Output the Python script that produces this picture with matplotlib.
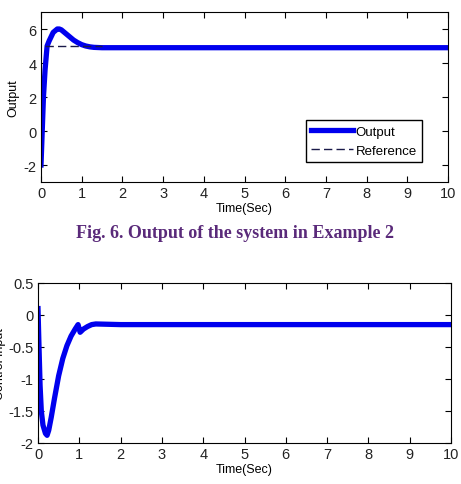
import matplotlib.pyplot as plt

# time samples
t_out = [0, 0.03, 0.06, 0.1, 0.15, 0.2, 0.3, 0.4, 0.45, 0.5, 0.6, 0.7, 0.8, 0.9, 1.0, 1.1, 1.2, 1.3, 1.5, 2.0, 10]
y_out = [-2.0, 0.0, 2.0, 3.6, 5.0, 5.3, 5.8, 6.0, 6.0, 5.95, 5.75, 5.55, 5.35, 5.2, 5.08, 5.0, 4.95, 4.92, 4.9, 4.9, 4.9]

t_ref = [0.1, 1.5]
y_ref = [5.0, 5.0]

t_u = [0, 0.02, 0.05, 0.08, 0.12, 0.18, 0.22, 0.26, 0.32, 0.4, 0.5, 0.6, 0.7, 0.8, 0.9, 0.97, 1.02, 1.1, 1.2, 1.3, 1.4, 2.0, 10]
u = [0.1, -0.4, -1.1, -1.5, -1.72, -1.85, -1.88, -1.8, -1.6, -1.3, -0.95, -0.68, -0.48, -0.33, -0.22, -0.15, -0.27, -0.22, -0.18, -0.15, -0.14, -0.15, -0.15]

plt.rcParams['font.family'] = ['Liberation Sans', 'DejaVu Sans']
plt.rcParams['axes.unicode_minus'] = False
plt.rcParams['xtick.direction'] = 'in'
plt.rcParams['ytick.direction'] = 'in'

fig = plt.figure(figsize=(4.61, 4.85), dpi=100)
W, H = 461, 485

# top plot: system output
ax1 = fig.add_axes([41 / W, 1 - 183 / H, (448 - 41) / W, (183 - 13) / H])
ax1.plot(t_out, y_out, color='#0000ee', lw=3.8, label='Output', solid_joinstyle='round')
ax1.plot(t_ref, y_ref, color='#1a1a4a', lw=1, ls=(0, (6, 3)), label='Reference')
ax1.set_xlim(0, 10)
ax1.set_ylim(-3, 7)
ax1.set_yticks([-2, 0, 2, 4, 6])
ax1.set_xticks(range(11))
ax1.set_xlabel('Time(Sec)', fontsize=9, labelpad=1)
ax1.set_ylabel('Output', fontsize=9, labelpad=3)
ax1.legend(loc='lower right', bbox_to_anchor=(0.937, 0.118), fontsize=9.5, fancybox=False,
           edgecolor='black', framealpha=1, handlelength=3.2, borderpad=0.4, labelspacing=0.5,
           handletextpad=0.2, borderaxespad=0)

fig.text(235 / W, 1 - 234 / H, 'Fig. 6. Output of the system in Example 2',
         ha='center', va='center', fontsize=13, fontweight='bold',
         family=['Liberation Serif'], color='#5a2a7a')

# bottom plot: control input
ax2 = fig.add_axes([38 / W, 1 - 444 / H, (451 - 38) / W, (444 - 284) / H])
ax2.plot(t_u, u, color='#0000ee', lw=3.8, solid_joinstyle='round')
ax2.set_xlim(0, 10)
ax2.set_ylim(-2, 0.5)
ax2.set_yticks([-2, -1.5, -1, -0.5, 0, 0.5])
ax2.set_yticklabels(['-2', '-1.5', '-1', '-0.5', '0', '0.5'])
ax2.set_xticks(range(11))
ax2.set_xlabel('Time(Sec)', fontsize=9, labelpad=1)
ax2.set_ylabel('Control Input', fontsize=9, labelpad=2)

for ax in (ax1, ax2):
    ax.tick_params(labelsize=10.5, labelcolor='#222222', top=True, right=True,
                   length=4, width=0.8, pad=3)
    for s in ax.spines.values():
        s.set_linewidth(0.8)

fig.savefig('out.png', dpi=100)
